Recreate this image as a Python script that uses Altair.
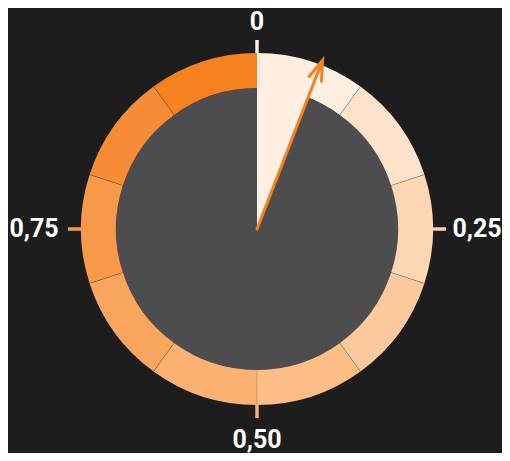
import altair as alt
import pandas as pd

# ---- data ----
seg_start = [0.0, 0.1, 0.2, 0.3, 0.4, 0.5, 0.6, 0.7, 0.8, 0.9]
seg_end = [0.1, 0.2, 0.3, 0.4, 0.5, 0.6, 0.7, 0.8, 0.9, 1.0]
seg_colors = ["#FEEFE2", "#FEE2CB", "#FDD6B3", "#FDCA9D", "#FCBD86",
              "#FBB172", "#F9A55E", "#F8994A", "#F68D36", "#F5821F"]
separators = [0.1, 0.2, 0.3, 0.4, 0.5, 0.6, 0.7, 0.8, 0.9]
value = 0.059
tick_values = [0.0, 0.25, 0.5, 0.75]
tick_labels = ["0", "0,25", "0,50", "0,75"]
tick_colors = ["#FEEFE2", "#FDD2AE", "#FBB172", "#F8994A"]

CX, CY = 249, 221
R_IN, R_OUT = 141, 176
ORANGE = "#F5821F"

theta_scale = alt.Scale(domain=[0, 1], range=[0, 6.283185307179586])

ring_df = pd.DataFrame({"start": seg_start, "end": seg_end, "color": seg_colors})
disc_df = pd.DataFrame({"start": [0.0], "end": [1.0]})
wedge_df = pd.DataFrame({"start": [0.0], "end": [value]})
sep_df = pd.DataFrame({"v": separators})
sep_df["lo"] = sep_df["v"] - 0.0003
sep_df["hi"] = sep_df["v"] + 0.0003
tick_df = pd.DataFrame({"v": tick_values, "label": tick_labels, "color": tick_colors})
tick_df["lo"] = tick_df["v"] - 0.0015
tick_df["hi"] = tick_df["v"] + 0.0015
arrow_df = pd.DataFrame({"v": [value]})

disc = alt.Chart(disc_df).mark_arc(
    x=CX, y=CY, radius=R_IN, radius2=0, color="#4D4D4F"
).encode(
    theta=alt.Theta("start:Q", scale=theta_scale, stack=None),
    theta2="end:Q",
)

ring = alt.Chart(ring_df).mark_arc(
    x=CX, y=CY, radius=R_OUT, radius2=R_IN
).encode(
    theta=alt.Theta("start:Q", scale=theta_scale, stack=None),
    theta2="end:Q",
    color=alt.Color("color:N", scale=None),
)

wedge = alt.Chart(wedge_df).mark_arc(
    x=CX, y=CY, radius=R_IN + 4, radius2=0, color="#FEEFE2"
).encode(
    theta=alt.Theta("start:Q", scale=theta_scale, stack=None),
    theta2="end:Q",
)

seps = alt.Chart(sep_df).mark_arc(
    x=CX, y=CY, radius=R_OUT, radius2=R_IN, color="#000000", opacity=0.3
).encode(
    theta=alt.Theta("lo:Q", scale=theta_scale, stack=None),
    theta2="hi:Q",
)

ticks = alt.Chart(tick_df).mark_arc(
    x=CX, y=CY, radius=R_OUT + 13, radius2=R_OUT
).encode(
    theta=alt.Theta("lo:Q", scale=theta_scale, stack=None),
    theta2="hi:Q",
    color=alt.Color("color:N", scale=None),
)

arrow_path = "M0,0 L0,-1 M-0.036,-0.89 L0,-1 L0.036,-0.89"
arrow = alt.Chart(arrow_df).mark_point(
    x=CX, y=CY, shape=arrow_path, size=131000, filled=False,
    stroke=ORANGE, strokeWidth=3, opacity=1, strokeCap="round", strokeJoin="miter"
).encode(
    angle=alt.Angle("v:Q", scale=alt.Scale(domain=[0, 1], range=[0, 360])),
)

text_base = dict(x=CX, y=CY, font="Roboto", fontWeight="bold", fontSize=25,
                 color="#FFFFFF", align="center", baseline="middle")


def label(v, r):
    return alt.Chart(tick_df).transform_filter(f"datum.v == {v}").mark_text(
        radius=r, **text_base
    ).encode(
        theta=alt.Theta("v:Q", scale=theta_scale, stack=None),
        text="label:N",
    )


chart = alt.layer(disc, ring, wedge, seps, ticks, arrow,
                  label(0, 207), label(0.25, 220), label(0.5, 211), label(0.75, 223)).properties(
    width=494, height=445,
    autosize=alt.AutoSizeParams(type="none"),
    padding=0,
    background="#1d1d1d",
).configure_view(stroke=None)

chart.save("out.html", embed_options={"renderer": "svg", "actions": False})
